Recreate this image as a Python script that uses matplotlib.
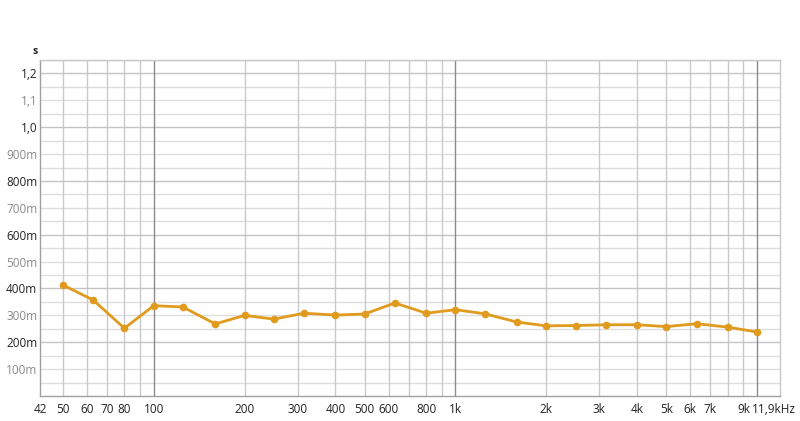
import matplotlib
matplotlib.use("Agg")
import matplotlib.pyplot as plt
import matplotlib.transforms as mtransforms
import numpy as np

freqs = [50, 63, 80, 100, 125, 160, 200, 250, 315, 400, 500, 630, 800,
         1000, 1250, 1600, 2000, 2500, 3150, 4000, 5000, 6300, 8000, 10000]
rt = [0.413, 0.357, 0.252, 0.336, 0.331, 0.268, 0.300, 0.286, 0.308, 0.301,
      0.305, 0.346, 0.308, 0.321, 0.306, 0.275, 0.261, 0.262, 0.265, 0.265,
      0.258, 0.269, 0.256, 0.238]

xtick_vals = [42, 50, 60, 70, 80, 100, 200, 300, 400, 500, 600, 800, 1000,
              2000, 3000, 4000, 5000, 6000, 7000, 9000, 11900]
xtick_labels = ["42", "50", "60", "70", "80", "100", "200", "300", "400", "500",
                "600", "800", "1k", "2k", "3k", "4k", "5k", "6k", "7k", "9k", "11,9kHz"]
ytick_vals = [0.1, 0.2, 0.3, 0.4, 0.5, 0.6, 0.7, 0.8, 0.9, 1.0, 1.1, 1.2]
ytick_labels = ["100m", "200m", "300m", "400m", "500m", "600m", "700m", "800m",
                "900m", "1,0", "1,1", "1,2"]

plt.rcParams['font.family'] = ['Open Sans', 'DejaVu Sans']

fig = plt.figure(figsize=(8, 4.21), dpi=100)
ax = fig.add_axes([0.05, 0.0594, 0.925, 0.7981])
xmin, xmax = 42, 11900
ymin, ymax = 0, 1.25
ax.set_xscale('log')
ax.set_xlim(xmin, xmax)
ax.set_ylim(ymin, ymax)

# vertical grid
vgrid = []
for dec in [10, 100, 1000, 10000]:
    for m in range(1, 10):
        v = dec * m
        if xmin < v < xmax:
            vgrid.append(v)
for v in vgrid:
    if v in (100, 1000, 10000):
        ax.axvline(v, color='#8a8a8a', lw=1.0, zorder=1)
    else:
        ax.axvline(v, color='#cacaca', lw=1.0, zorder=0.5)

# horizontal grid
for i in range(1, 26):
    y = i * 0.05
    if i % 4 == 0:
        ax.axhline(y, color='#c4c4c4', lw=1.0, zorder=0.5)
    else:
        ax.axhline(y, color='#dedede', lw=1.0, zorder=0.4)

ax.plot(freqs, rt, color='#e09a1e', lw=2.0, marker='o', markersize=5.5,
        markeredgewidth=0, zorder=3, solid_joinstyle='round')

ax.set_xticks(xtick_vals)
ax.set_xticklabels(xtick_labels)
ax.xaxis.set_minor_locator(matplotlib.ticker.NullLocator())
ax.set_yticks(ytick_vals)
ax.set_yticklabels(ytick_labels)
ax.tick_params(axis='both', length=0, labelsize=8.5, colors='#222222')
ax.tick_params(axis='x', pad=5)
ax.tick_params(axis='y', pad=2)
for lbl, v in zip(ax.get_yticklabels(), ytick_vals):
    k = int(round(v * 10))
    lbl.set_color('#222222' if k % 2 == 0 else '#8a8a8a')

last = ax.get_xticklabels()[-1]
last.set_transform(last.get_transform() +
                   mtransforms.ScaledTranslation(-6 / 100, 0, fig.dpi_scale_trans))

for side in ['left', 'bottom']:
    ax.spines[side].set_color('#a0a0a0')
    ax.spines[side].set_linewidth(1.0)
for side in ['top', 'right']:
    ax.spines[side].set_color('#c8c8c8')
    ax.spines[side].set_linewidth(1.0)

fig.text(35 / 800, 1 - 51 / 421, "s", fontsize=7.5, color='#222222',
         ha='center', va='center', fontweight='bold')

fig.savefig("out.png", dpi=100, facecolor='white')
